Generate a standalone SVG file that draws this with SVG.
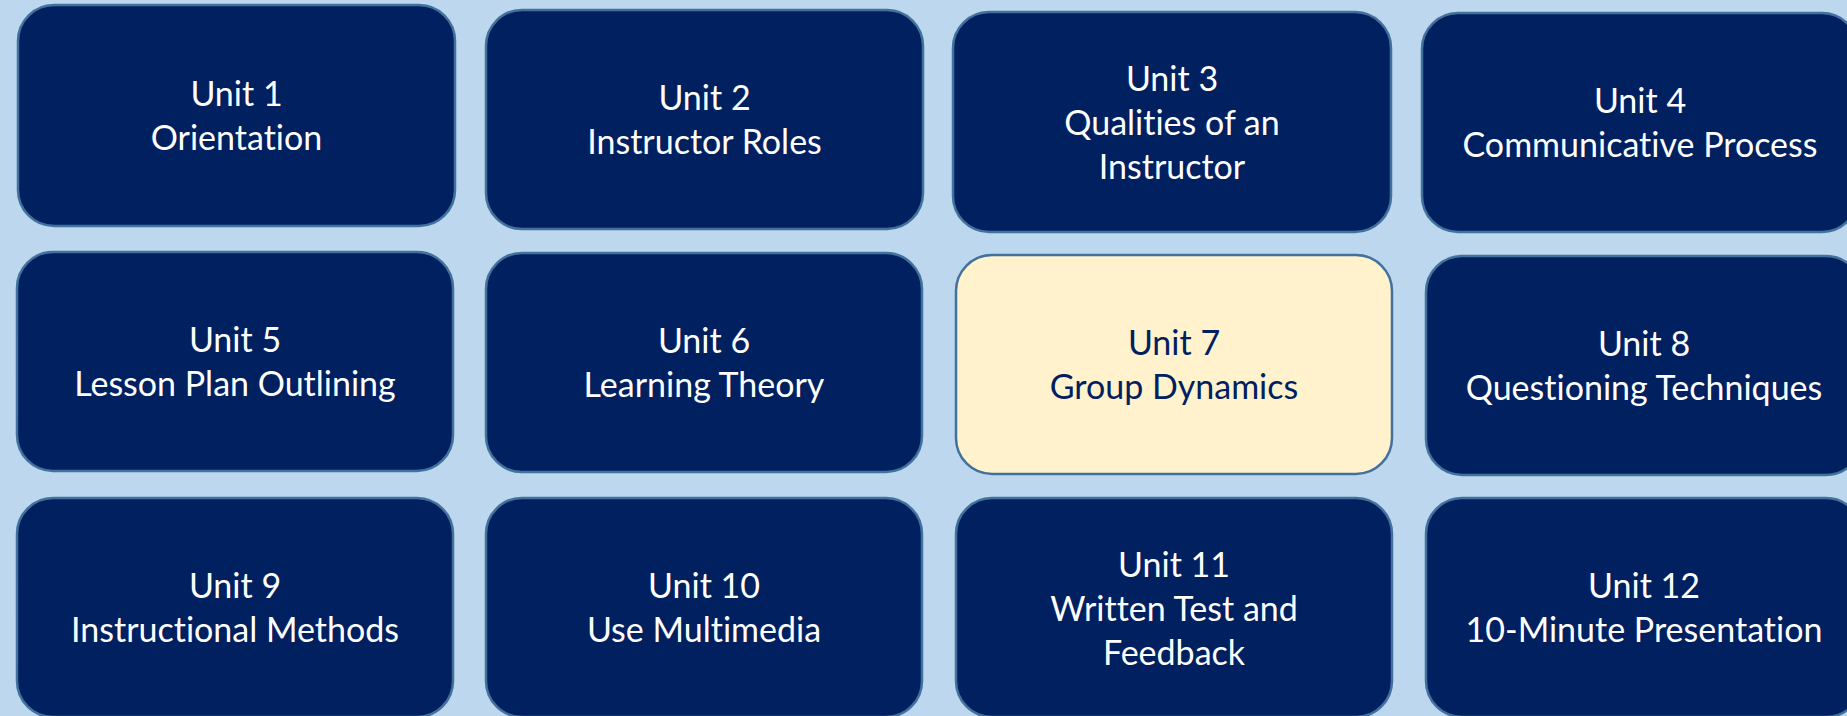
<svg xmlns="http://www.w3.org/2000/svg" width="1847" height="716" viewBox="0 0 1847 716">
<style>
.bg{fill:#BDD7EE}
.box{fill:#002060;stroke:#41719C;stroke-width:2.5}
.hl{fill:#FFF2CC;stroke:#41719C;stroke-width:2.5}
.t{font-family:Lato,"Liberation Sans",sans-serif;font-size:34px;fill:#FFFFFF;text-anchor:middle;font-variant-ligatures:none;font-feature-settings:"liga" 0}
.th{font-family:Lato,"Liberation Sans",sans-serif;font-size:34px;fill:#002060;text-anchor:middle;font-variant-ligatures:none;font-feature-settings:"liga" 0}
</style>
<rect class="bg" x="0" y="0" width="1847" height="716"/>
<g id="connectors"></g>
<g id="unit1"><rect class="box" x="18" y="5" width="437" height="221" rx="36"/><text class="t" x="236.5" y="106">Unit 1</text><text class="t" x="236.5" y="149.5">Orientation</text></g>
<g id="unit2"><rect class="box" x="486" y="10" width="437" height="219" rx="36"/><text class="t" x="704.5" y="110">Unit 2</text><text class="t" x="704.5" y="153.5">Instructor Roles</text></g>
<g id="unit3"><rect class="box" x="953" y="12" width="438" height="220" rx="36"/><text class="t" x="1172" y="91">Unit 3</text><text class="t" x="1172" y="135">Qualities of an</text><text class="t" x="1172" y="179">Instructor</text></g>
<g id="unit4"><rect class="box" x="1422" y="13" width="436" height="219" rx="36"/><text class="t" x="1640" y="113">Unit 4</text><text class="t" x="1640" y="156.5">Communicative Process</text></g>
<g id="unit5"><rect class="box" x="17" y="252" width="436" height="219" rx="36"/><text class="t" x="235" y="352">Unit 5</text><text class="t" x="235" y="395.5">Lesson Plan Outlining</text></g>
<g id="unit6"><rect class="box" x="486" y="253" width="436" height="219" rx="36"/><text class="t" x="704" y="353">Unit 6</text><text class="t" x="704" y="396.5">Learning Theory</text></g>
<g id="unit7"><rect class="hl" x="956" y="255" width="436" height="219" rx="36"/><text class="th" x="1174" y="355">Unit 7</text><text class="th" x="1174" y="398.5">Group Dynamics</text></g>
<g id="unit8"><rect class="box" x="1426" y="256" width="436" height="219" rx="36"/><text class="t" x="1644" y="356">Unit 8</text><text class="t" x="1644" y="399.5">Questioning Techniques</text></g>
<g id="unit9"><rect class="box" x="17" y="498" width="436" height="219" rx="36"/><text class="t" x="235" y="598">Unit 9</text><text class="t" x="235" y="641.5">Instructional Methods</text></g>
<g id="unit10"><rect class="box" x="486" y="498" width="436" height="219" rx="36"/><text class="t" x="704" y="598">Unit 10</text><text class="t" x="704" y="641.5">Use Multimedia</text></g>
<g id="unit11"><rect class="box" x="956" y="498" width="436" height="219" rx="36"/><text class="t" x="1174" y="576.5">Unit 11</text><text class="t" x="1174" y="620.5">Written Test and</text><text class="t" x="1174" y="664.5">Feedback</text></g>
<g id="unit12"><rect class="box" x="1426" y="498" width="436" height="219" rx="36"/><text class="t" x="1644" y="598">Unit 12</text><text class="t" x="1644" y="641.5">10-Minute Presentation</text></g>
</svg>
